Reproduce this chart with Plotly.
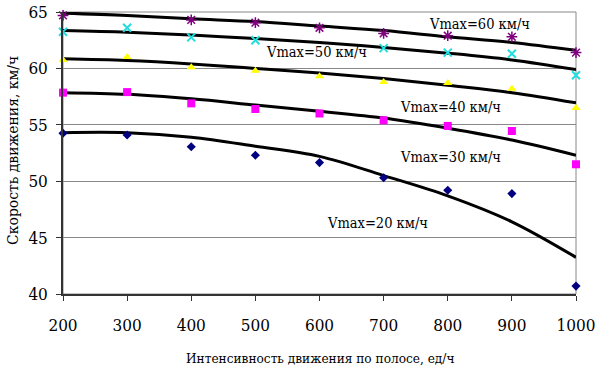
import plotly.graph_objects as go

x_vals = [200, 300, 400, 500, 600, 700, 800, 900, 1000]

# observed points
v60_pts = [64.7, None, 64.3, 64.05, 63.6, 63.1, 62.9, 62.8, 61.4]
v50_pts = [63.25, 63.6, 62.75, 62.5, None, 61.8, 61.4, 61.3, 59.4]
v40_pts = [60.75, 61.0, 60.1, 59.8, 59.3, 58.8, 58.7, 58.2, 56.5]
v30_pts = [57.85, 57.9, 56.9, 56.4, 56.0, 55.4, 54.9, 54.45, 51.5]
v20_pts = [54.25, 54.1, 53.05, 52.3, 51.65, 50.3, 49.2, 48.9, 40.7]

# trend curves
v60_fit = [64.9, 64.7, 64.4, 64.15, 63.75, 63.35, 62.8, 62.3, 61.6]
v50_fit = [63.35, 63.2, 62.95, 62.65, 62.3, 61.85, 61.35, 60.75, 59.9]
v40_fit = [60.85, 60.7, 60.4, 60.0, 59.6, 59.1, 58.5, 57.85, 56.95]
v30_fit = [57.85, 57.7, 57.3, 56.75, 56.2, 55.6, 54.7, 53.65, 52.3]
v20_fit = [54.3, 54.3, 53.9, 53.1, 52.2, 50.5, 48.7, 46.4, 43.25]

labels = ["Vmax=60 км/ч", "Vmax=50 км/ч", "Vmax=40 км/ч", "Vmax=30 км/ч", "Vmax=20 км/ч"]
label_x = [850, 595, 805, 805, 690]
label_y = [63.94, 61.45, 56.55, 52.17, 46.27]

x_ticks = [200, 300, 400, 500, 600, 700, 800, 900, 1000]
y_ticks = [40, 45, 50, 55, 60, 65]

SERIF = "DejaVu Serif Condensed, DejaVu Serif, serif"

fig = go.Figure()

for fit in [v60_fit, v50_fit, v40_fit, v30_fit, v20_fit]:
    fig.add_trace(go.Scatter(x=x_vals, y=fit, mode="lines",
                             line=dict(color="black", width=3, shape="spline", smoothing=1.0),
                             showlegend=False, hoverinfo="skip"))

marker_specs = [
    (v60_pts, dict(symbol="asterisk-open", size=9, color="#800080", line=dict(color="#800080", width=1.5))),
    (v50_pts, dict(symbol="x-thin-open", size=8, color="#22DDDD", line=dict(color="#22DDDD", width=2))),
    (v40_pts, dict(symbol="triangle-up", size=8, color="#FFFF00")),
    (v30_pts, dict(symbol="square", size=8, color="#FF00FF")),
    (v20_pts, dict(symbol="diamond", size=7, color="#000080")),
]
for pts, mk in marker_specs:
    fig.add_trace(go.Scatter(x=x_vals, y=pts, mode="markers", marker=mk,
                             showlegend=False, cliponaxis=False))

for t, lx, ly in zip(labels, label_x, label_y):
    fig.add_annotation(x=lx, y=ly, text=t, showarrow=False,
                       font=dict(family=SERIF, size=14.5, color="black"))

# plot border (gray)
fig.add_shape(type="rect", xref="paper", yref="paper", x0=0, y0=0, x1=1, y1=1,
              line=dict(color="#888888", width=1), layer="below")

fig.add_annotation(xref="paper", yref="paper", x=0.5, y=-0.19, yanchor="top",
                   text="Интенсивность движения по полосе, ед/ч", showarrow=False,
                   font=dict(family=SERIF, size=13.5, color="black"))
fig.add_annotation(xref="paper", yref="paper", x=-0.098, y=0.51, xanchor="center",
                   text="Скорость движения, км/ч", showarrow=False, textangle=-90,
                   font=dict(family=SERIF, size=15.5, color="black"))

fig.update_layout(
    width=597, height=367,
    margin=dict(l=63, r=21, t=12, b=73, autoexpand=False),
    paper_bgcolor="white", plot_bgcolor="white",
    font=dict(family=SERIF, size=17, color="black"),
    xaxis=dict(range=[200, 1000], tickvals=x_ticks, showgrid=False, zeroline=False,
               automargin=False, ticklabelstandoff=10,
               showline=True, linecolor="#333333", linewidth=1.5, ticklabeloverflow="allow",
               ticks="outside", ticklen=5, tickcolor="#333333", tickfont=dict(family=SERIF, size=17)),
    yaxis=dict(range=[40, 65], tickvals=y_ticks, showgrid=True, gridcolor="#888888", gridwidth=1,
               automargin=False, ticklabelstandoff=5,
               zeroline=False, showline=True, linecolor="#333333", linewidth=1.5, ticklabeloverflow="allow",
               ticks="outside", ticklen=5, tickcolor="#333333", tickfont=dict(family=SERIF, size=17)),
)

fig.write_html("out.html", config={"displayModeBar": False},
               post_script="document.body.style.margin='0';document.body.style.padding='0';")
